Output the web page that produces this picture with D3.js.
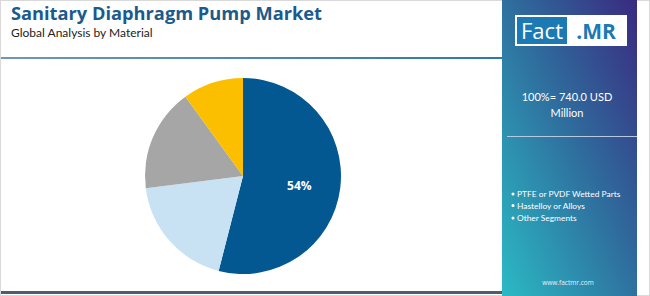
<!DOCTYPE html>
<html><head><meta charset="utf-8">
<script src="https://cdn.jsdelivr.net/npm/d3@7"></script>
<style>html,body{margin:0;padding:0;background:#fff;}svg{display:block;}</style>
</head><body>
<svg id="c" width="650" height="296"></svg>
<script>
const categories = ["PTFE or PVDF Wetted Parts", "Hastelloy or Alloys", "Other Segments", "Others"];
const values = [54, 19, 17, 10];
const colors = ["#045891", "#c8e2f4", "#a6a6a6", "#fbbf00"];
const legendItems = ["PTFE or PVDF Wetted Parts", "Hastelloy or Alloys", "Other Segments"];
const title = "Sanitary Diaphragm Pump Market";
const subtitle = "Global Analysis by Material";
const totalText = ["100%= 740.0 USD", "Million"];

const svg = d3.select("#c");
const defs = svg.append("defs");
const g1 = defs.append("linearGradient").attr("id","pg").attr("x1","0").attr("y1","1").attr("x2","1").attr("y2","0");
g1.append("stop").attr("offset","0").attr("stop-color","#2bbac4");
g1.append("stop").attr("offset","0.55").attr("stop-color","#2f6a9c");
g1.append("stop").attr("offset","1").attr("stop-color","#3a2a80");
const g2 = defs.append("linearGradient").attr("id","lg").attr("x1","0").attr("x2","1");
g2.append("stop").attr("offset","0").attr("stop-color","#6e98b8");
g2.append("stop").attr("offset","1").attr("stop-color","#2f78a8");

// border
svg.append("rect").attr("x",0.5).attr("y",0.5).attr("width",649).attr("height",295).attr("fill","#fff").attr("stroke","#d9d9d9");

// title
svg.append("text").attr("x",11).attr("y",20).text(title)
  .attr("font-family","'Open Sans', Lato, sans-serif").attr("font-weight","bold")
  .attr("font-size",17.5).attr("fill","#1a5a8c")
  .attr("textLength",311).attr("lengthAdjust","spacingAndGlyphs");
svg.append("text").attr("x",11).attr("y",36.5).text(subtitle)
  .attr("font-family","Lato, 'Open Sans', sans-serif").attr("font-size",12).attr("fill","#222");

// top line
svg.append("rect").attr("x",1).attr("y",57).attr("width",502).attr("height",2).attr("fill","url(#lg)");
// bottom line
svg.append("rect").attr("x",1).attr("y",291).attr("width",502).attr("height",3).attr("fill","#4e5b70");

// right panel
svg.append("rect").attr("x",502).attr("y",0).attr("width",135).attr("height",296).attr("fill","url(#pg)");
// logo
svg.append("rect").attr("x",515).attr("y",15).attr("width",112).attr("height",31).attr("fill","#fff");
svg.append("rect").attr("x",517).attr("y",17).attr("width",50).attr("height",27).attr("fill","#1b7ab3");
svg.append("text").attr("x",542).attr("y",39).attr("text-anchor","middle").text("Fact")
  .attr("font-family","'Open Sans', sans-serif").attr("font-size",22).attr("fill","#fff");
svg.append("text").attr("x",596).attr("y",39).attr("text-anchor","middle").text(".MR")
  .attr("font-family","'Open Sans', sans-serif").attr("font-weight","bold").attr("font-size",21).attr("fill","#1b7ab3");

totalText.forEach((t,i)=>{
  svg.append("text").attr("x",567).attr("y",100.5+i*16).attr("text-anchor","middle").text(t)
    .attr("font-family","Lato, 'Open Sans', sans-serif").attr("font-size",11).attr("fill","#fff");
});
svg.append("line").attr("x1",507).attr("x2",637).attr("y1",136.5).attr("y2",136.5).attr("stroke","#b8c8e0").attr("stroke-width",1.2);

const ly = [197, 208.5, 221];
legendItems.forEach((t,i)=>{
  svg.append("circle").attr("cx",513).attr("cy",ly[i]-3).attr("r",1.5).attr("fill","#fff");
  svg.append("text").attr("x",517).attr("y",ly[i]).text(t)
    .attr("font-family","Lato, 'Open Sans', sans-serif").attr("font-size",8.4).attr("fill","#fff");
});
svg.append("text").attr("x",568).attr("y",285).attr("text-anchor","middle").text("www.factmr.com")
  .attr("font-family","'Open Sans', sans-serif").attr("font-size",6.5).attr("fill","#e8f0f8");

// pie
const cx = 243, cy = 176, r = 98;
const pie = d3.pie().sort(null).value(d=>d)(values);
const arc = d3.arc().innerRadius(0).outerRadius(r);
const pg = svg.append("g").attr("transform",`translate(${cx},${cy})`);
pg.selectAll("path").data(pie).enter().append("path").attr("d",arc).attr("fill",(d,i)=>colors[i]);
const labelArc = d3.arc().innerRadius(r*0.6).outerRadius(r*0.6);
pg.selectAll("text.l").data(pie.filter(d=>d.data>=30)).enter().append("text")
  .attr("transform",d=>{const c=labelArc.centroid(d);return `translate(${c[0]-2},${c[1]+2})`;})
  .attr("text-anchor","middle").attr("dy","0.35em").text(d=>d.data+"%")
  .attr("font-family","'Open Sans', sans-serif").attr("font-weight","bold").attr("font-size",12).attr("fill","#fff");
</script>
</body></html>
